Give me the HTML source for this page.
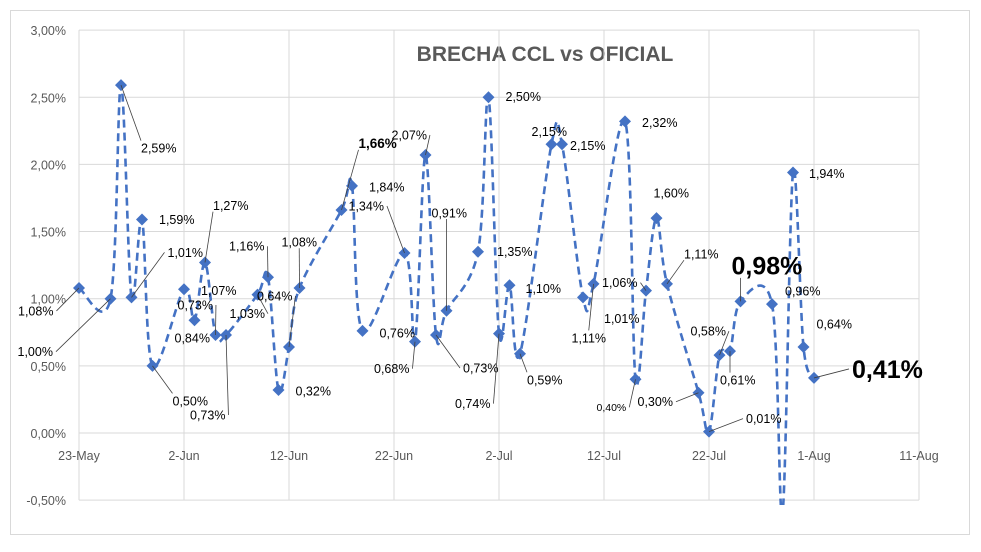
<!DOCTYPE html>
<html><head><meta charset="utf-8"><style>
html,body{margin:0;padding:0;background:#fff;}
svg{display:block;font-family:"Liberation Sans",Arial,sans-serif;}
</style></head><body>
<svg id="chart" width="981" height="552" viewBox="0 0 981 552" xmlns="http://www.w3.org/2000/svg">
<rect x="10.5" y="10.5" width="959" height="524" fill="#fff" stroke="#d9d9d9"/>
<text x="545" y="61" text-anchor="middle" font-size="21" font-weight="bold" fill="#595959">BRECHA CCL vs OFICIAL</text>
<g id="grid"></g>
<g id="axes"></g>
<g id="series"></g>
<g id="labels"></g>
</svg>
<script>
const dayOffsets=[0,3,4,5,6,7,10,11,12,13,14,17,18,19,20,21,25,26,27,31,32,33,34,35,38,39,40,41,42,45,46,48,49,52,53,54,55,56,59,60,61,62,63,66,67,68,69,70];
const brechaValues=[1.08,1.00,2.59,1.01,1.59,0.50,1.07,0.84,1.27,0.73,0.73,1.03,1.16,0.32,0.64,1.08,1.66,1.84,0.76,1.34,0.68,2.07,0.73,0.91,1.35,2.50,0.74,1.10,0.59,2.15,2.15,1.01,1.11,2.32,0.40,1.06,1.60,1.11,0.30,0.01,0.58,0.61,0.98,0.96,-0.60,1.94,0.64,0.41];
const yTickValues=[-0.5,0,0.5,1,1.5,2,2.5,3];
const yTickLabels=["-0,50%","0,00%","0,50%","1,00%","1,50%","2,00%","2,50%","3,00%"];
const xTickDays=[0,10,20,30,40,50,60,70,80];
const xTickLabels=["23-May","2-Jun","12-Jun","22-Jun","2-Jul","12-Jul","22-Jul","1-Aug","11-Aug"];
const pointLabels=["1,08%","1,00%","2,59%","1,01%","1,59%","0,50%","1,07%","0,84%","1,27%","0,73%","0,73%","1,03%","1,16%","0,32%","0,64%","1,08%","1,66%","1,84%","0,76%","1,34%","0,68%","2,07%","0,73%","0,91%","1,35%","2,50%","0,74%","1,10%","0,59%","2,15%","2,15%","1,01%","1,11%","2,32%","0,40%","1,06%","1,60%","1,11%","0,30%","0,01%","0,58%","0,61%","0,98%","0,96%","","1,94%","0,64%","0,41%"];
// label layout offsets (style, not data)
const labelDx=[-61,-93,20,36,17,20,17,-20,8,-38,-36,-28,-39,17,-32,-18,17,17,17,-56,-41,-34,27,-15,19,17,-44,16,7,-20,8,21,-22,17,-39,-44,-3,17,-61,37,-29,-10,-9,13,0,16,13,38];
const labelDy=[23,53,63,-45,0,35,1,18,-57,-30,80,19,-31,1,-51,-46,-67,1,2,-47,27,-20,33,-98,0,-1,70,3,26,-13,1,21,54,1,28,-8,-25,-30,9,-13,-24,29,-36,-13,0,1,-23,-9];
const labelStyle={16:{fs:13.5,fw:"bold"},34:{fs:10.5,fw:"normal"},42:{fs:25,fw:"bold"},47:{fs:25,fw:"bold"}};

const NS="http://www.w3.org/2000/svg";
const X0=79,PXD=10.5,Y0=433,PXV=134.3;
const xs=d=>X0+d*PXD;
const ys=v=>Y0-v*PXV;
function mk(tag,attrs,parent){const e=document.createElementNS(NS,tag);for(const k in attrs)e.setAttribute(k,attrs[k]);parent.appendChild(e);return e;}
const grid=document.getElementById('grid'),axes=document.getElementById('axes'),series=document.getElementById('series'),labels=document.getElementById('labels');

yTickValues.forEach((v,i)=>{
  const l=mk('line',{x1:X0,x2:xs(80),y1:ys(v),y2:ys(v),stroke:'#d9d9d9','stroke-width':1},grid);
  
  
  const t=mk('text',{x:66,y:ys(v)+5,'text-anchor':'end','font-size':12.5,fill:'#595959'},axes);
  t.textContent=yTickLabels[i];
  
  
});
xTickDays.forEach((d,i)=>{
  const l=mk('line',{x1:xs(d),x2:xs(d),y1:ys(3),y2:ys(-0.5),stroke:'#d9d9d9','stroke-width':1},grid);
  
  
  const t=mk('text',{x:xs(d),y:460,'text-anchor':'middle','font-size':12.5,fill:'#595959'},axes);
  t.textContent=xTickLabels[i];
  
  
});

const pts=dayOffsets.map((d,i)=>[xs(d),ys(brechaValues[i])]);
let dstr=`M${pts[0][0]},${pts[0][1]}`;
const k=1/6;
for(let i=0;i<pts.length-1;i++){
  const p0=pts[i-1]||pts[i],p1=pts[i],p2=pts[i+1],p3=pts[i+2]||p2;
  const c1=[p1[0]+(p2[0]-p0[0])*k,p1[1]+(p2[1]-p0[1])*k];
  const c2=[p2[0]-(p3[0]-p1[0])*k,p2[1]-(p3[1]-p1[1])*k];
  dstr+=` C${c1[0]},${c1[1]} ${c2[0]},${c2[1]} ${p2[0]},${p2[1]}`;
}
const defs=mk('defs',{},series);
const cp=mk('clipPath',{id:'plotclip'},defs);
mk('rect',{x:0,y:20,width:981,height:485},cp);
const line=mk('path',{d:dstr,fill:'none',stroke:'#4472c4','stroke-width':2.6,'stroke-dasharray':'8 5','clip-path':'url(#plotclip)'},series);


pts.forEach((p,i)=>{
  if(brechaValues[i]<-0.5)return;
  const m=mk('path',{d:`M${p[0]},${p[1]-6}L${p[0]+6},${p[1]}L${p[0]},${p[1]+6}L${p[0]-6},${p[1]}Z`,fill:'#4472c4'},series);
  
  
});
pointLabels.forEach((s,i)=>{
  if(!s)return;
  const st=labelStyle[i]||{fs:12.5,fw:'normal'};
  const lx=pts[i][0]+labelDx[i],ly=pts[i][1]+labelDy[i];
  const t=mk('text',{x:lx,y:ly+st.fs*0.36,'font-size':st.fs,'font-weight':st.fw,fill:'#000'},labels);
  t.textContent=s;
  
  
  const dx=labelDx[i],dy=labelDy[i];
  if(Math.abs(dx)>25||Math.abs(dy)>25){
    const w=t.getComputedTextLength();
    let ex=lx-3,ey=ly;
    if(dx<-25) ex=lx+w+3;
    else if(Math.abs(dy)>25&&dx<25){ex=lx+Math.min(w/2,Math.max(0,-dx));ey=dy<0?ly+st.fs*0.5:ly-st.fs*0.6;}
    const L=mk('line',{x1:pts[i][0],y1:pts[i][1],x2:ex,y2:ey,stroke:'#404040','stroke-width':0.8},labels);
    
    
  }
});
</script>
</body></html>
